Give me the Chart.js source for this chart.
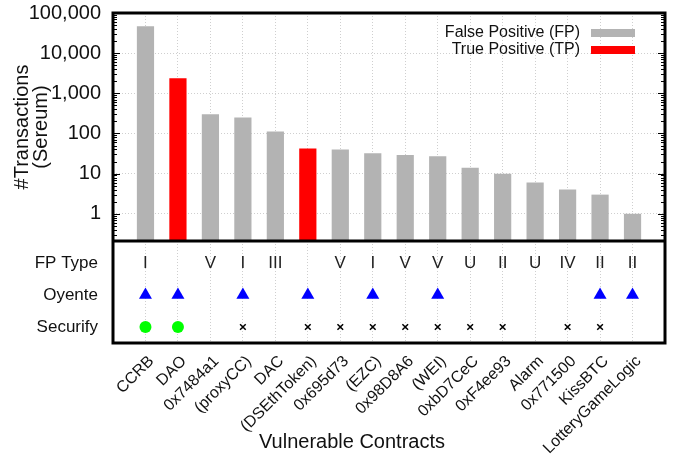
<html>
<head>
<meta charset="UTF-8">
<script src="https://cdn.jsdelivr.net/npm/chart.js"></script>
<style>
  html, body { margin: 0; padding: 0; background: white; }
  #wrap { width: 673px; height: 457px; }
</style>
</head>
<body>
<div id="wrap"><canvas id="myChart"></canvas></div>
<script>
const contracts = ['CCRB', 'DAO', '0x7484a1', '(proxyCC)', 'DAC', '(DSEthToken)', '0x695d73', '(EZC)',
  '0x98D8A6', '(WEI)', '0xbD7CeC', '0xF4ee93', 'Alarm', '0x771500', 'KissBTC', 'LotteryGameLogic'];
const transactions = [47000, 2370, 300, 250, 112, 42, 40, 32, 29, 27, 14, 10, 6, 4, 3, 1];
const truePositive = [false, true, false, false, false, true, false, false, false, false, false, false, false, false, false, false];
const fpType = ['I', '', 'V', 'I', 'III', '', 'V', 'I', 'V', 'V', 'U', 'II', 'U', 'IV', 'II', 'II'];
const oyente = [1, 1, 0, 1, 0, 1, 0, 1, 0, 1, 0, 0, 0, 0, 1, 1];
const securify = ['hit', 'hit', '', 'miss', '', 'miss', 'miss', 'miss', 'miss', 'miss', 'miss', 'miss', '', 'miss', 'miss', ''];
const rowLabels = ['FP Type', 'Oyente', 'Securify'];
const yTicks = [1, 10, 100, 1000, 10000, 100000];

const FONT = 'Liberation Sans, Arial, sans-serif';
const GRAY = '#b3b3b3';
const RED = '#ff0000';
const gridColor = '#cfcfcf';

const barData = transactions.map((v, i) => ({x: i + 1, y: v}));
const oyenteData = [];
oyente.forEach((v, i) => { if (v) oyenteData.push({x: i + 1, y: 1}); });
const secHit = [], secMiss = [];
securify.forEach((v, i) => {
  if (v === 'hit') secHit.push({x: i + 1, y: 2});
  if (v === 'miss') secMiss.push({x: i + 1, y: 2});
});

// frame, legend, FP type text, small log ticks
const decor = {
  id: 'decor',
  afterDraw(chart) {
    const {ctx, chartArea: a, scales} = chart;
    const y = scales.y, x = scales.x, y2 = scales.y2;
    ctx.save();

    // log minor ticks on both sides
    ctx.strokeStyle = '#000';
    ctx.lineWidth = 1;
    for (let e = -1; e < 5; e++) {
      for (let m = 1; m < 10; m++) {
        const v = m * Math.pow(10, e);
        if (v < y.min || v > y.max) continue;
        const py = Math.round(y.getPixelForValue(v)) + 0.5;
        const len = m === 1 ? 7 : 4;
        ctx.beginPath();
        ctx.moveTo(a.left, py); ctx.lineTo(a.left + len, py);
        ctx.moveTo(a.right, py); ctx.lineTo(a.right - len, py);
        ctx.stroke();
      }
    }

    // FP type row
    ctx.fillStyle = '#222';
    ctx.font = '17px ' + FONT;
    ctx.textAlign = 'center';
    ctx.textBaseline = 'middle';
    fpType.forEach((t, i) => {
      if (t) ctx.fillText(t, x.getPixelForValue(i + 1), y2.getPixelForValue(0));
    });

    // frame and panel divider
    ctx.strokeStyle = '#000';
    ctx.lineWidth = 3;
    ctx.strokeRect(a.left, a.top, a.right - a.left, a.bottom - a.top);
    ctx.beginPath();
    ctx.moveTo(a.left, y.bottom); ctx.lineTo(a.right, y.bottom);
    ctx.stroke();

    // legend
    ctx.font = '16px ' + FONT;
    ctx.textAlign = 'right';
    ctx.fillStyle = '#111';
    ctx.fillText('False Positive (FP)', 580, 33);
    ctx.fillText('True Positive (TP)', 580, 50);
    ctx.fillStyle = GRAY;
    ctx.fillRect(591, 29, 44, 8);
    ctx.fillStyle = RED;
    ctx.fillRect(591, 46, 44, 8);

    // x axis title
    ctx.font = '20px ' + FONT;
    ctx.textAlign = 'center';
    ctx.fillStyle = '#111';
    ctx.fillText('Vulnerable Contracts', 352, 442);
    ctx.restore();
  }
};

const config = {
  type: 'bar',
  data: {
    datasets: [
      {
        label: 'Transactions',
        data: barData,
        backgroundColor: truePositive.map(t => t ? RED : GRAY),
        barPercentage: 0.53,
        categoryPercentage: 1,
        yAxisID: 'y',
        order: 2
      },
      {
        type: 'scatter',
        label: 'Oyente',
        data: oyenteData,
        yAxisID: 'y2',
        pointStyle: 'triangle',
        pointRadius: 7.5,
        backgroundColor: '#0000ff',
        borderColor: '#0000ff',
        borderWidth: 0,
        order: 1
      },
      {
        type: 'scatter',
        label: 'Securify detected',
        data: secHit,
        yAxisID: 'y2',
        pointStyle: 'circle',
        pointRadius: 6,
        backgroundColor: '#00ff00',
        borderColor: '#00ff00',
        borderWidth: 0,
        order: 1
      },
      {
        type: 'scatter',
        label: 'Securify missed',
        data: secMiss,
        yAxisID: 'y2',
        pointStyle: 'crossRot',
        pointRadius: 4,
        borderColor: '#000',
        borderWidth: 1.5,
        order: 1
      }
    ]
  },
  options: {
    responsive: true,
    maintainAspectRatio: false,
    animation: false,
    layout: {padding: {top: 13, right: 8, left: 0, bottom: 0}},
    plugins: {
      legend: {display: false},
      tooltip: {enabled: false}
    },
    scales: {
      x: {
        type: 'linear',
        offset: false,
        min: 0,
        max: 17,
        afterBuildTicks: s => { s.ticks = contracts.map((_, i) => ({value: i + 1})); },
        afterFit: s => { s.height = 114; s.paddingLeft = 0; s.paddingRight = 0; },
        grid: {color: gridColor, drawTicks: false, offset: false},
        border: {display: false, dash: [1, 2]},
        ticks: {
          autoSkip: false,
          minRotation: 45,
          maxRotation: 45,
          padding: 9,
          labelOffset: 6,
          color: '#111',
          font: {family: FONT, size: 16},
          callback: v => contracts[v - 1]
        }
      },
      y2: {
        type: 'linear',
        position: 'left',
        stack: 'panels',
        stackWeight: 102,
        reverse: true,
        min: -0.69,
        max: 2.5,
        afterBuildTicks: s => { s.ticks = rowLabels.map((_, i) => ({value: i})); },
        afterFit: s => { s.width = 113; s.paddingTop = 0; s.paddingBottom = 0; },
        grid: {display: false, drawTicks: false},
        border: {display: false},
        ticks: {
          padding: 15,
          color: '#111',
          font: {family: FONT, size: 17},
          callback: v => rowLabels[v]
        }
      },
      y: {
        type: 'logarithmic',
        position: 'left',
        stack: 'panels',
        stackWeight: 228,
        min: 0.21,
        max: 100000,
        afterBuildTicks: s => { s.ticks = yTicks.map(v => ({value: v})); },
        afterFit: s => { s.width = 113; s.paddingTop = 0; s.paddingBottom = 0; },
        grid: {color: gridColor, drawTicks: false},
        border: {display: false, dash: [1, 2]},
        ticks: {
          padding: 12,
          color: '#111',
          font: {family: FONT, size: 20},
          callback: v => v.toLocaleString('en-US')
        },
        title: {
          display: true,
          text: ['#Transactions', '(Sereum)'],
          color: '#111',
          font: {family: FONT, size: 20, lineHeight: 0.95},
          padding: {top: 13, bottom: 0}
        }
      }
    }
  },
  plugins: [decor]
};

new Chart(document.getElementById('myChart'), config);
</script>
</body>
</html>
